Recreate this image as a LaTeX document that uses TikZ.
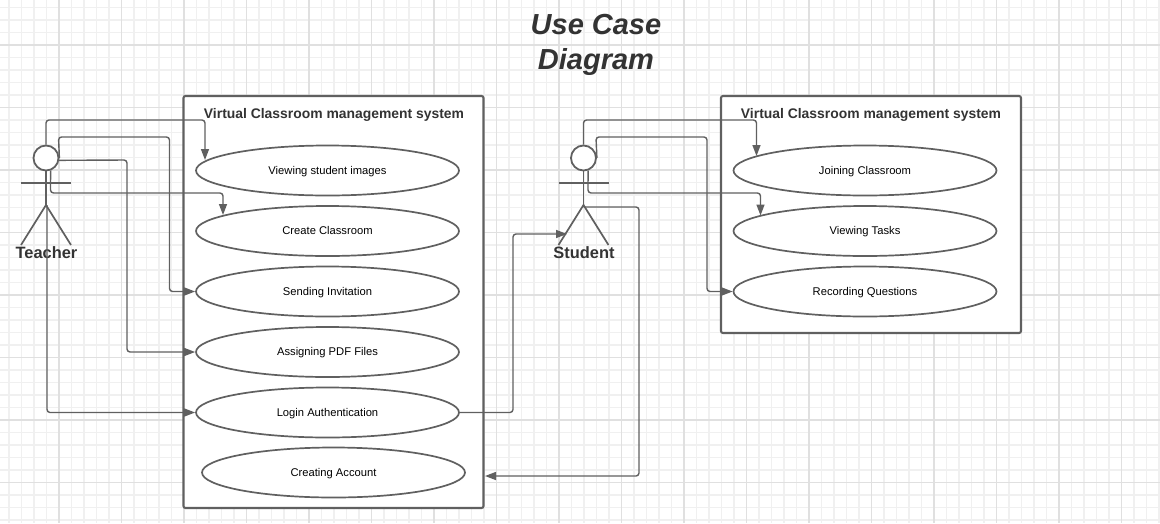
\documentclass[tikz,border=0pt]{standalone}
\usepackage{fontspec}
\setmainfont{Liberation Sans}
\usetikzlibrary{shapes.geometric,arrows.meta}
\definecolor{ink}{HTML}{606060}
\definecolor{txt}{HTML}{333333}
\definecolor{gridminor}{HTML}{F0F0F0}
\definecolor{gridmajor}{HTML}{E0E0E0}
\tikzset{
  usecase/.style={shape=ellipse,draw=ink,fill=white,line width=1.7pt,minimum width=263pt,minimum height=50pt,inner sep=0pt,font=\fontsize{11.2}{13}\selectfont,text=black,text depth=1pt},
  sysbox/.style={draw=ink,fill=white,line width=2.1pt,rounded corners=2pt},
  head/.style={shape=circle,draw=ink,fill=white,line width=1.8pt,minimum size=25pt,inner sep=0pt},
  limb/.style={draw=ink,line width=1.7pt},
  conn/.style={draw=ink,line width=1.4pt,rounded corners=3pt},
  arr/.style={conn,-{Triangle[length=11pt,width=8pt,fill=ink]}},
  systitle/.style={font=\fontsize{13.9}{17}\selectfont\bfseries,text=txt,inner sep=0pt},
  actorname/.style={font=\fontsize{16.4}{19}\selectfont\bfseries,text=txt,inner sep=0pt},
  maintitle/.style={font=\fontsize{29}{35}\selectfont\bfseries\itshape,text=txt,align=center,inner sep=0pt}
}
\begin{document}
\begin{tikzpicture}[x=1pt,y=-1pt]
\useasboundingbox (0,0) rectangle (1160,523);
\fill[white] (0,0) rectangle (1160,523);
% grid
\foreach \i in {0,...,92} {
  \pgfmathsetmacro{\gx}{9+12.5*\i}
  \draw[gridminor,line width=1.1pt] (\gx,0) -- (\gx,523);
}
\foreach \i in {0,...,41} {
  \pgfmathsetmacro{\gy}{7.5+12.5*\i}
  \draw[gridminor,line width=1.1pt] (0,\gy) -- (1160,\gy);
}
\foreach \i in {0,...,46} {
  \pgfmathsetmacro{\gx}{9+25*\i}
  \draw[gridminor,line width=1.7pt] (\gx,0) -- (\gx,523);
}
\foreach \i in {0,...,20} {
  \pgfmathsetmacro{\gy}{20+25*\i}
  \draw[gridminor,line width=1.7pt] (0,\gy) -- (1160,\gy);
}
\foreach \i in {0,...,8} {
  \pgfmathsetmacro{\gx}{121.5+125*\i}
  \draw[gridmajor,line width=0.9pt] (\gx,0) -- (\gx,523);
}
\foreach \i in {0,...,3} {
  \pgfmathsetmacro{\gy}{107.2+125*\i}
  \draw[gridmajor,line width=0.9pt] (0,\gy) -- (1160,\gy);
}
\foreach \i in {0,...,8} {
  \pgfmathsetmacro{\gx}{59+125*\i}
  \draw[gridmajor,line width=1.7pt] (\gx,0) -- (\gx,523);
}
\foreach \i in {0,...,3} {
  \pgfmathsetmacro{\gy}{45+125*\i}
  \draw[gridmajor,line width=1.7pt] (0,\gy) -- (1160,\gy);
}
% title
\node[maintitle] (title) at (596,45) {Use Case\\[0.2pt]Diagram};
% boxes
\node[sysbox,minimum width=300pt,minimum height=412pt,inner sep=0pt] (boxL) at (333.5,302) {};
\node[sysbox,minimum width=300pt,minimum height=237pt,inner sep=0pt] (boxR) at (871,214.5) {};
\node[systitle] (titleL) at (334,114.5) {Virtual Classroom management system};
\node[systitle] (titleR) at (871,114.5) {Virtual Classroom management system};
% left use cases
\node[usecase] (viewimg) at (327.5,170.5) {Viewing student images};
\node[usecase] (create) at (327.5,231) {Create Classroom};
\node[usecase] (invite) at (327.5,291.5) {Sending Invitation};
\node[usecase] (assign) at (327.5,352) {Assigning PDF Files};
\node[usecase] (login) at (327.5,412.5) {Login Authentication};
\node[usecase] (account) at (333.5,472.5) {Creating Account};
% right use cases
\node[usecase] (join) at (865,170.5) {Joining Classroom};
\node[usecase] (tasks) at (865,231) {Viewing Tasks};
\node[usecase] (record) at (865,291.5) {Recording Questions};
% teacher
\node[head] (thead) at (46,158) {};
\coordinate (thip) at (46,205);
\coordinate (tarmL) at (21,183);
\coordinate (tarmR) at (71,183);
\coordinate (tlegL) at (21,245);
\coordinate (tlegR) at (71,245);
\draw[limb] (thead.south) -- (thip);
\draw[limb] (tarmL) -- (tarmR);
\draw[limb] (tlegL) -- (thip) -- (tlegR);
\node[actorname] (tname) at (46.5,252.5) {Teacher};
% student
\node[head] (shead) at (583.5,158) {};
\coordinate (ship) at (583.5,205);
\coordinate (sarmL) at (558.5,183);
\coordinate (sarmR) at (608.5,183);
\coordinate (slegL) at (558.5,245);
\coordinate (slegR) at (608.5,245);
\draw[limb] (shead.south) -- (ship);
\draw[limb] (sarmL) -- (sarmR);
\draw[limb] (slegL) -- (ship) -- (slegR);
\node[actorname] (sname) at (584,252.5) {Student};
% teacher connectors
\draw[arr] (thead.north) |- (205,120) -- (205,160);
\draw[arr] (thead.east) -- (58.5,137) -- (169.5,137) |- (invite.west);
\draw[arr] (thead.-10) -- (127,160) |- (assign.west);
\draw[arr] (thead.-70) -- (50.5,193) -- (223,193) -- (223,215);
\draw[arr] (47,205) |- (login.west);
% student connectors
\draw[arr] (shead.north) |- (756.5,120) -- (756.5,156);
\draw[arr] (shead.east) -- (596,137) -- (707,137) |- (record.west);
\draw[arr] (shead.-70) -- (588,193) -- (760.5,193) -- (760.5,215.5);
\draw[arr] (583.5,207) -| (639,476) -- (485,476);
\draw[arr] (login.east) -| (513,234) -- (567,234);
\end{tikzpicture}
\end{document}
